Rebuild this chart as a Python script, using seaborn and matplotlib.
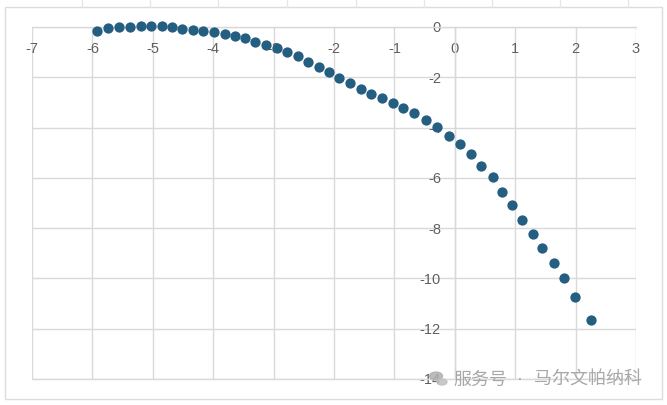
import matplotlib
matplotlib.use("Agg")
import matplotlib.pyplot as plt
import seaborn as sns
import pandas as pd
from matplotlib.patches import Rectangle, Circle
from matplotlib.lines import Line2D

x_values = [-5.93, -5.75, -5.56, -5.38, -5.20, -5.03, -4.85, -4.68, -4.52, -4.34,
            -4.17, -3.99, -3.80, -3.64, -3.48, -3.31, -3.13, -2.95, -2.78, -2.60,
            -2.43, -2.25, -2.09, -1.92, -1.74, -1.55, -1.39, -1.21, -1.03, -0.86,
            -0.68, -0.48, -0.29, -0.10, 0.09, 0.27, 0.44, 0.63, 0.78, 0.95,
            1.11, 1.29, 1.44, 1.64, 1.81, 1.99, 2.25]
y_values = [-0.16, -0.04, 0.00, 0.01, 0.04, 0.04, 0.04, 0.00, -0.06, -0.10,
            -0.14, -0.20, -0.28, -0.36, -0.45, -0.60, -0.72, -0.85, -1.01, -1.17,
            -1.39, -1.58, -1.80, -2.02, -2.23, -2.46, -2.66, -2.84, -3.04, -3.22,
            -3.44, -3.70, -3.97, -4.33, -4.67, -5.07, -5.52, -5.98, -6.58, -7.07,
            -7.67, -8.25, -8.80, -9.38, -10.00, -10.74, -11.66]
x_ticks = [-7, -6, -5, -4, -3, -2, -1, 0, 1, 2, 3]
y_ticks = [0, -2, -4, -6, -8, -10, -12, -14]
wm_left = "服务号"
wm_right = "马尔文帕纳科"

sns.set_style("white")
plt.rcParams['font.family'] = ['Liberation Sans', 'DejaVu Sans']

df = pd.DataFrame({"x": x_values, "y": y_values})

fig = plt.figure(figsize=(6.67, 4.05), dpi=100)
ax = fig.add_axes([32 / 667, 1 - 379 / 405, (636 - 32) / 667, (379 - 27) / 405])

sns.scatterplot(data=df, x="x", y="y", ax=ax, color="#245e80", s=55,
                linewidth=0, zorder=3, clip_on=False)

ax.set_xlim(-7, 3)
ax.set_ylim(-14, 0)
ax.set_xticks(x_ticks)
ax.set_yticks(y_ticks)
ax.set_xticklabels([str(t) for t in x_ticks])
ax.set_yticklabels([str(t) for t in y_ticks])
ax.set_xlabel("")
ax.set_ylabel("")

ax.grid(True, color="#d9d9d9", linewidth=1)
for gl in ax.get_xgridlines() + ax.get_ygridlines():
    gl.set_clip_on(False)
ax.axhline(min(y_ticks), color="#d9d9d9", linewidth=1, clip_on=False, zorder=0.6)
for sp in ["right", "top"]:
    ax.spines[sp].set_visible(False)
ax.spines["left"].set_position(("data", 0))
ax.spines["bottom"].set_position(("data", 0))
for sp in ["left", "bottom"]:
    ax.spines[sp].set_color("#d9d9d9")
    ax.spines[sp].set_linewidth(1)
ax.tick_params(axis="x", length=0, pad=11, labelsize=10.5, labelcolor="#606060")
ax.tick_params(axis="y", length=0, pad=10, labelsize=10.5, labelcolor="#606060")

# chart area border
fig.add_artist(Rectangle((5 / 667, 1 - 399 / 405), (662 - 5) / 667, (399 - 7) / 405,
                         transform=fig.transFigure, fill=False, ec="#dcdcdc", lw=1))
# faint spreadsheet cell lines outside chart
for px in [82, 150, 218, 287, 356, 424, 492, 560, 628]:
    fig.add_artist(Line2D([px / 667, px / 667], [1, 1 - 7 / 405],
                          transform=fig.transFigure, color="#e6e6e6", lw=1))

# watermark
fig.add_artist(Circle((436 / 667, 1 - 376 / 405), 6.5 / 667, transform=fig.transFigure,
                      color="#b0b0b0", alpha=0.85))
fig.add_artist(Circle((442 / 667, 1 - 382 / 405), 5 / 667, transform=fig.transFigure,
                      color="#c0c0c0", alpha=0.85))
cjk = ["Noto Sans CJK SC", "DejaVu Sans"]
fig.text(453 / 667, 1 - 380 / 405, wm_left, fontsize=13, color="#a8a8a8",
         family=cjk, ha="left", va="center")
fig.text(520 / 667, 1 - 380 / 405, "·", fontsize=13, color="#a8a8a8",
         family=["Liberation Sans"], ha="center", va="center")
fig.text(642 / 667, 1 - 380 / 405, wm_right, fontsize=13, color="#a8a8a8",
         family=cjk, ha="right", va="center")

fig.savefig("out.png", dpi=100)
